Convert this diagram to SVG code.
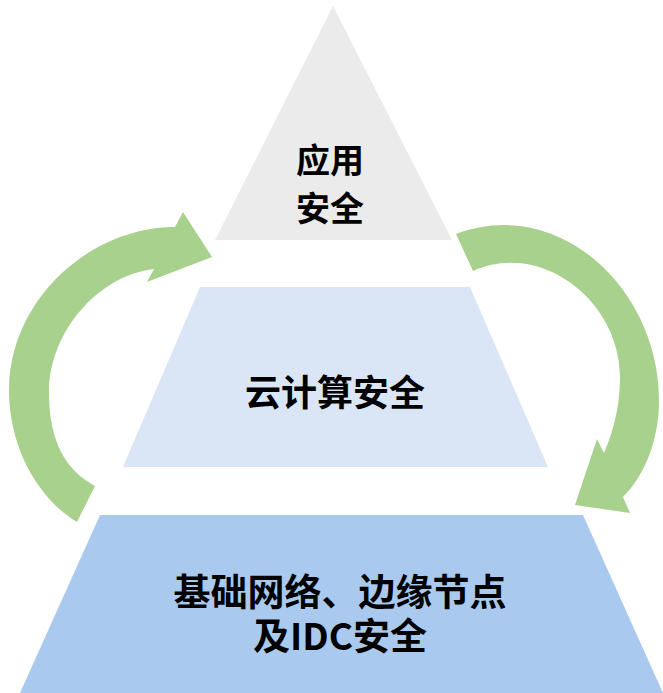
<svg xmlns="http://www.w3.org/2000/svg" width="663" height="693" viewBox="0 0 663 693">
<style>
.lbl{font-family:"Noto Sans CJK SC","Noto Sans",sans-serif;font-weight:700;fill:#000;text-anchor:middle}
.arrow{fill:#A9D18E}
</style>
<rect width="663" height="693" fill="#fff"/>
<g id="layer-app">
<polygon points="333,6 452,240 215,240" fill="#EBEBEB"/>
<text class="lbl" font-size="34"><tspan x="330" y="173">应用</tspan><tspan x="330" y="221">安全</tspan></text>
</g>
<g id="layer-cloud">
<polygon points="200,287 470,287 548,467 123,467" fill="#DAE6F6"/>
<text class="lbl" x="335" y="406" font-size="36">云计算安全</text>
</g>
<g id="layer-base">
<polygon points="100,515 583,515 663,693 20,693" fill="#A9CAEE"/>
<text class="lbl" font-size="37"><tspan x="340" y="606">基础网络、边缘节点</tspan><tspan x="340" y="650">及IDC安全</tspan></text>
</g>
<g id="connectors">
<path class="arrow" d="M77,522 C40,500 9,450 9,390 C9,300 90,227 175,227 L183,212 L212,257 L147,282 L154,269 C100,275 49,330 49,393 C49,440 65,470 95,486 Z"/>
<path class="arrow" d="M456,234 C560,195 659,290 659,400 C659,440 645,475 623,497 L630,513 L575,505 L597,439 L604,453 C616,425 620,400 620,377 C620,300 540,240 473,271 Z"/>
</g>
</svg>
